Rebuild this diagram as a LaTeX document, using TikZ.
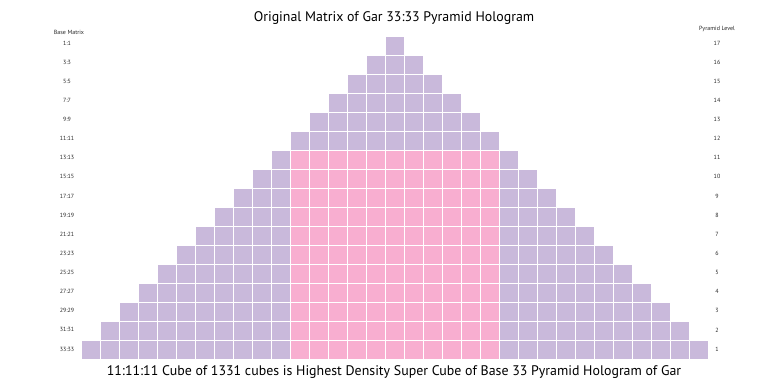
\documentclass[tikz,border=0pt]{standalone}
\usepackage{fontspec}
\setmainfont{PT Sans}
\definecolor{lilac}{HTML}{C9B9DB}
\definecolor{rose}{HTML}{F8AED0}

\begin{document}
\begin{tikzpicture}[
  x=1pt, y=-1pt,
  cell/.style={draw=white, line width=0.9pt, minimum size=19pt,
               inner sep=0pt, outer sep=0pt},
  tiny/.style={font=\fontsize{6}{7}\selectfont, text=black!85, inner sep=0pt},
  head/.style={font=\fontsize{13.9}{16}\selectfont, inner sep=0pt, anchor=base}
]
\useasboundingbox (0,0) rectangle (768,384);
% ---------------- pyramid of cells ----------------
\foreach \rw in {1,...,17}{
  \pgfmathtruncatemacro{\lo}{18-\rw}
  \pgfmathtruncatemacro{\hi}{16+\rw}
  \foreach \cl in {\lo,...,\hi}{
    \pgfmathtruncatemacro{\pk}{and(\rw>6, and(\cl>11, \cl<23))}
    \ifnum\pk=1 \def\clr{rose}\else\def\clr{lilac}\fi
    \node[cell, fill=\clr] (cell-\rw-\cl) at ({71.5+19*\cl}, {26.5+19*\rw}) {};
  }
}
% ---------------- side labels ----------------
\node[tiny] (base) at (69,32) {Base Matrix};
\node[tiny] (lvl) at (717,29) {Pyramid Level};
\foreach \rw in {1,...,17}{
  \pgfmathtruncatemacro{\w}{2*\rw-1}
  \pgfmathtruncatemacro{\k}{18-\rw}
  \node[tiny] (base-\rw) at (67, {43+19.125*(\rw-1)}) {\w:\w};
  \node[tiny] (lvl-\rw) at (717, {43+19.125*(\rw-1)}) {\k};
}
% ---------------- title and caption ----------------
\node[head] (title) at (394,21) {Original Matrix of Gar 33:33 Pyramid Hologram};
\node[head] (caption) at (394,375)
  {11:11:11 Cube of 1331 cubes is Highest Density Super Cube of Base 33 Pyramid Hologram of Gar};
\end{tikzpicture}
\end{document}
